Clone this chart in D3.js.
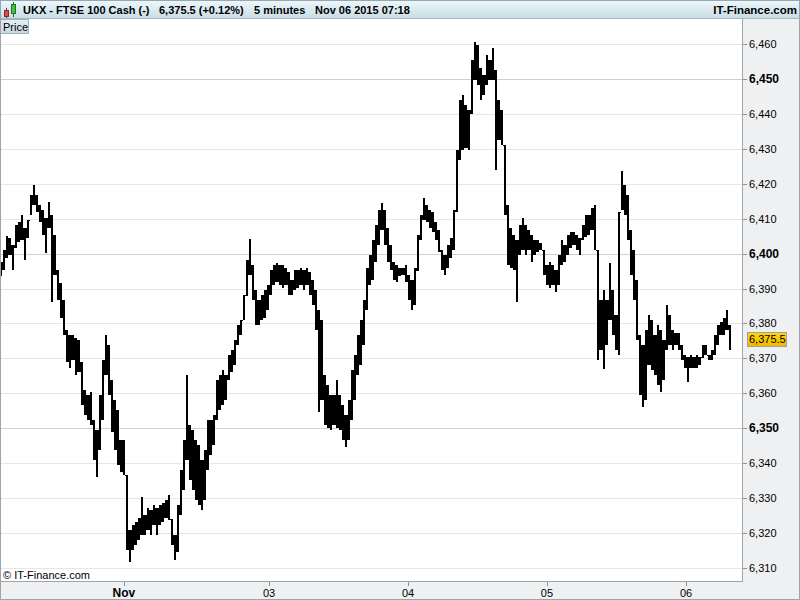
<!DOCTYPE html>
<html><head><meta charset="utf-8">
<script src="https://cdn.jsdelivr.net/npm/d3@7/dist/d3.min.js"></script>
<style>body{margin:0;background:#fff}svg{display:block;font-family:Arial,"Liberation Sans",sans-serif}</style>
</head><body><svg id="c" width="800" height="600"></svg>
<script>
// 5-minute bars, FTSE 100 Cash (each entry = one displayed column)
const highs = [
6397.6,6401.0,6405.0,6404.5,6402.5,6408.2,6409.1,6411.1,6407.4,6409.6,
6416.8,6419.7,6416.8,6413.9,6412.5,6410.2,6414.8,6411.1,6405.3,6395.3,
6391.6,6386.7,6378.1,6376.7,6376.7,6375.8,6375.3,6368.9,6360.9,6359.5,
6360.4,6352.3,6349.5,6359.5,6369.5,6376.7,6373.8,6363.8,6358.1,6355.2,
6346.6,6346.6,6336.6,6320.8,6322.2,6323.1,6324.2,6330.3,6325.1,6327.1,
6326.5,6328.0,6327.1,6328.0,6328.5,6329.4,6330.8,6324.0,6319.4,6328.0,
6338.0,6346.6,6365.2,6350.9,6349.5,6346.6,6345.2,6340.9,6343.7,6352.3,
6352.3,6353.8,6363.8,6365.2,6366.7,6365.2,6371.0,6372.4,6375.3,6379.6,
6381.0,6388.2,6398.2,6404.2,6396.8,6389.6,6386.7,6388.2,6389.6,6391.0,
6395.3,6396.8,6397.3,6396.8,6396.8,6395.9,6394.7,6392.5,6395.3,6395.3,
6395.9,6395.3,6395.9,6394.7,6392.5,6389.6,6383.9,6381.0,6365.2,6362.4,
6359.5,6359.5,6363.8,6359.5,6356.6,6353.8,6358.1,6366.7,6371.0,6376.7,
6381.0,6386.7,6395.9,6399.6,6403.9,6408.2,6412.5,6414.5,6412.5,6407.4,
6402.5,6397.6,6396.8,6395.9,6395.9,6396.8,6393.9,6392.5,6395.9,6405.3,
6411.1,6415.9,6413.9,6412.5,6411.9,6409.1,6406.8,6401.0,6399.6,6402.5,
6404.5,6412.5,6429.7,6444.0,6445.5,6442.6,6441.2,6455.5,6460.7,6459.8,
6453.2,6451.2,6456.9,6455.5,6458.9,6452.6,6444.0,6441.2,6431.0,6413.9,
6407.4,6405.3,6403.9,6408.2,6410.2,6408.2,6406.8,6405.3,6403.9,6403.9,
6403.0,6401.0,6396.8,6397.6,6396.8,6395.3,6399.6,6403.9,6402.5,6405.3,
6406.2,6406.2,6405.3,6404.5,6408.2,6411.1,6411.1,6413.1,6413.9,6401.0,
6386.7,6389.6,6386.7,6397.3,6389.6,6382.4,6412.0,6423.7,6419.7,6416.8,
6406.8,6401.0,6392.5,6376.7,6373.8,6378.1,6382.4,6381.0,6376.7,6379.6,
6378.1,6375.3,6385.3,6382.4,6378.1,6377.3,6377.3,6373.8,6371.0,6370.4,
6371.0,6370.4,6371.0,6370.4,6373.8,6373.8,6371.0,6372.4,6376.7,6379.6,
6380.4,6381.6,6383.9,6379.6
];
const lows = [
6393.6,6395.3,6398.8,6399.6,6395.3,6401.6,6403.3,6403.9,6398.2,6404.5,
6411.1,6413.9,6411.9,6409.1,6405.3,6400.2,6407.4,6386.1,6393.9,6386.7,
6381.6,6376.7,6368.9,6367.2,6369.5,6365.2,6366.1,6356.6,6353.8,6352.3,
6350.9,6340.9,6336.0,6343.7,6352.3,6365.2,6359.5,6348.9,6343.7,6339.4,
6337.4,6336.6,6315.1,6311.6,6315.1,6316.5,6317.9,6319.4,6319.4,6320.8,
6319.4,6322.2,6319.4,6322.2,6323.1,6324.2,6323.7,6316.5,6312.2,6314.5,
6325.1,6332.3,6340.9,6335.1,6332.3,6329.4,6328.0,6326.5,6329.4,6338.0,
6342.3,6345.2,6352.3,6355.2,6356.6,6358.1,6363.8,6366.1,6368.1,6373.8,
6376.7,6381.0,6388.0,6393.9,6386.7,6379.6,6379.6,6381.0,6381.6,6383.9,
6388.2,6391.0,6391.9,6391.0,6390.2,6391.0,6388.2,6388.2,6389.6,6390.2,
6391.0,6389.6,6391.0,6388.2,6385.3,6378.1,6354.6,6358.1,6350.9,6350.0,
6349.5,6350.9,6350.0,6349.5,6346.6,6344.6,6346.6,6352.3,6358.1,6365.2,
6368.1,6373.8,6383.9,6391.0,6392.5,6397.6,6402.5,6406.8,6402.5,6397.6,
6395.3,6392.5,6391.9,6393.6,6393.9,6391.9,6386.7,6383.9,6385.3,6395.0,
6403.9,6409.6,6409.1,6407.4,6406.2,6403.9,6400.5,6395.3,6393.9,6395.9,
6398.8,6401.0,6412.0,6426.8,6429.7,6430.3,6429.7,6440.0,6449.8,6448.3,
6444.0,6445.5,6448.3,6449.8,6449.8,6424.0,6432.6,6431.1,6411.1,6396.8,
6395.9,6395.3,6386.1,6399.6,6401.0,6399.6,6401.0,6397.6,6399.6,6400.5,
6401.0,6393.9,6391.0,6390.2,6391.0,6389.0,6391.0,6396.8,6397.6,6399.6,
6401.6,6402.5,6401.0,6399.6,6403.9,6404.8,6405.3,6406.8,6401.0,6369.5,
6372.4,6366.9,6373.8,6381.0,6376.7,6372.4,6371.0,6412.5,6411.1,6403.9,
6393.9,6386.7,6375.3,6359.5,6356.0,6358.1,6368.1,6366.7,6365.2,6362.4,
6360.4,6363.8,6372.4,6373.8,6372.4,6373.8,6372.4,6369.5,6367.2,6363.2,
6367.2,6367.2,6367.2,6368.1,6370.1,6371.0,6369.5,6369.5,6371.0,6373.8,
6376.7,6376.7,6378.1,6372.4
];
const lastPrice = 6375.5;
const yTicks = d3.range(6310, 6461, 10);
const dayLabels = ["Nov", "03", "04", "05", "06"];
const dayStartBar = [41.3, 89.7, 136.0, 182.3, 228.7];
const headerParts = ["UKX - FTSE 100 Cash (-)", "6,375.5 (+0.12%)", "5 minutes", "Nov 06 2015 07:18"];

const svg = d3.select("#c");
const W = 800, H = 600, plotR = 742, plotT = 19, plotB = 581;
const fmt = d3.format(",");

const defs = svg.append("defs");
function grad(id, stops) {
  const g = defs.append("linearGradient").attr("id", id).attr("x1", 0).attr("x2", 0).attr("y1", 0).attr("y2", 1);
  stops.forEach(([o, c]) => g.append("stop").attr("offset", o).attr("stop-color", c));
}
grad("hdr", [[0, "#eef8fc"], [1, "#c9dde6"]]);
grad("tab", [[0, "#e4eff5"], [1, "#c6d8e2"]]);
grad("yel", [[0, "#ffd800"], [1, "#f2b800"]]);

svg.append("rect").attr("width", W).attr("height", H).attr("fill", "#fff");
svg.append("rect").attr("x", plotR).attr("y", plotT).attr("width", W - plotR).attr("height", H - plotT).attr("fill", "#eff0f2");
svg.append("rect").attr("x", 0).attr("y", plotB).attr("width", W).attr("height", H - plotB).attr("fill", "#eff0f2");

const x = d3.scaleLinear().domain([0, highs.length]).range([0, highs.length * 3]);
const y = d3.scaleLinear().domain([6310, 6460]).range([567.7, 44.3]);

// grid
svg.append("g").selectAll("line").data(yTicks).join("line")
  .attr("x1", 0).attr("x2", plotR).attr("y1", d => Math.round(y(d)) + 0.5).attr("y2", d => Math.round(y(d)) + 0.5)
  .attr("stroke", d => d % 50 === 0 ? "#d0d0d0" : "#e6e6e6");

// bars (high-low), 2px bars joined to their neighbour by a 1px link
const bars = svg.append("g").attr("shape-rendering", "crispEdges");
bars.selectAll("rect.b").data(highs).join("rect").attr("class", "b")
  .attr("x", (d, i) => x(i)).attr("width", 2)
  .attr("y", d => y(d)).attr("height", (d, i) => Math.max(1, y(lows[i]) - y(d)))
  .attr("fill", "#000");
bars.selectAll("rect.l").data(highs.slice(1)).join("rect").attr("class", "l")
  .attr("x", (d, i) => x(i) + 2).attr("width", 1)
  .attr("y", (d, i) => y(Math.min(highs[i], d)))
  .attr("height", (d, i) => Math.max(1, y(Math.max(lows[i], lows[i + 1])) - y(Math.min(highs[i], d))))
  .attr("fill", "#000");

// copyright
svg.append("text").attr("x", 3).attr("y", 579).attr("font-size", 11).attr("fill", "#000").text("\u00a9 IT-Finance.com");

// borders
svg.append("line").attr("x1", plotR + 0.5).attr("x2", plotR + 0.5).attr("y1", plotT).attr("y2", plotB).attr("stroke", "#9aa6ad");
svg.append("line").attr("x1", 0).attr("x2", plotR + 1).attr("y1", plotB + 0.5).attr("y2", plotB + 0.5).attr("stroke", "#9aa6ad");

// y axis
const ya = svg.append("g");
ya.selectAll("line").data(yTicks).join("line")
  .attr("x1", plotR + 1).attr("x2", plotR + 5).attr("y1", d => Math.round(y(d)) + 0.5).attr("y2", d => Math.round(y(d)) + 0.5)
  .attr("stroke", "#8a959b");
ya.selectAll("text").data(yTicks).join("text")
  .attr("x", 749).attr("y", d => y(d) + 4)
  .attr("font-size", d => d % 50 === 0 ? 12 : 11)
  .attr("font-weight", d => d % 50 === 0 ? "bold" : "normal")
  .attr("fill", "#000").text(d => fmt(d));

// last price box
const ly = y(lastPrice);
svg.append("rect").attr("x", 747.5).attr("y", Math.round(ly - 7) + 0.5).attr("width", 39).attr("height", 14)
  .attr("fill", "url(#yel)").attr("stroke", "#a0a0a0");
svg.append("text").attr("x", 749).attr("y", ly + 4).attr("font-size", 11).attr("fill", "#000").text(d3.format(",.1f")(lastPrice));

// x axis
const xa = svg.append("g");
xa.selectAll("line").data(dayStartBar).join("line")
  .attr("x1", d => Math.round(x(d)) + 0.5).attr("x2", d => Math.round(x(d)) + 0.5)
  .attr("y1", plotB + 1).attr("y2", plotB + 5).attr("stroke", "#8a959b");
xa.selectAll("text").data(dayStartBar).join("text")
  .attr("x", d => x(d)).attr("y", 597).attr("text-anchor", "middle")
  .attr("font-size", (d, i) => i === 0 ? 12 : 11).attr("font-weight", (d, i) => i === 0 ? "bold" : "normal")
  .attr("fill", "#000").text((d, i) => dayLabels[i]);

// header
svg.append("rect").attr("x", 0).attr("y", 0).attr("width", W).attr("height", 18).attr("fill", "url(#hdr)");
svg.append("line").attr("x1", 0).attr("x2", W).attr("y1", 18.5).attr("y2", 18.5).attr("stroke", "#a8b6bd");
// icon
svg.append("line").attr("x1", 6.5).attr("x2", 6.5).attr("y1", 8).attr("y2", 18).attr("stroke", "#7a2a2a");
svg.append("rect").attr("x", 4.5).attr("y", 10.5).attr("width", 4).attr("height", 6).attr("fill", "#e04848").attr("stroke", "#8a2a2a");
svg.append("line").attr("x1", 13.5).attr("x2", 13.5).attr("y1", 2).attr("y2", 17).attr("stroke", "#2a6a2a");
svg.append("rect").attr("x", 11.5).attr("y", 4.5).attr("width", 4).attr("height", 9).attr("fill", "#38c838").attr("stroke", "#2a6a2a");
const hx = [23, 159, 254, 315];
svg.append("g").selectAll("text").data(headerParts).join("text")
  .attr("x", (d, i) => hx[i]).attr("y", 14).attr("font-size", 11).attr("font-weight", "bold").attr("fill", "#000").text(d => d);
svg.append("text").attr("x", 797).attr("y", 14).attr("text-anchor", "end").attr("font-size", 11.5).attr("font-weight", "bold").attr("fill", "#000").text("IT-Finance.com");

// Price tab
svg.append("rect").attr("x", 0.5).attr("y", 19.5).attr("width", 28).attr("height", 14).attr("fill", "url(#tab)").attr("stroke", "#9fb0b8");
svg.append("text").attr("x", 3).attr("y", 31).attr("font-size", 11).attr("fill", "#000").text("Price");

// outer frame
svg.append("rect").attr("x", 0.5).attr("y", 0.5).attr("width", W - 1).attr("height", H - 1).attr("fill", "none").attr("stroke", "#9aa6ad");
</script></body></html>
